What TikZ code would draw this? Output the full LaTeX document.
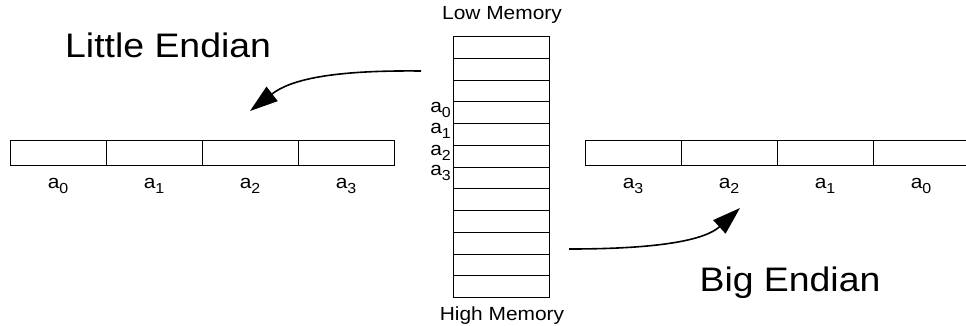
\documentclass[tikz,border=0pt]{standalone}
\usepackage{fontspec}
\setmainfont{Liberation Sans}[FakeStretch=1.1]
\usetikzlibrary{arrows.meta}
\newcommand\asub[1]{a\raisebox{-5pt}{\fontsize{14.5}{14.5}\selectfont #1}}
\begin{document}
\begin{tikzpicture}[x=1pt,y=-1pt,
  cell/.style={draw, line width=1.6pt, minimum width=96pt, minimum height=25pt, inner sep=0pt, outer sep=0pt},
  memrow/.style={draw, line width=1.6pt, minimum width=96pt, inner sep=0pt, outer sep=0pt},
  small/.style={font=\fontsize{19}{19}\selectfont, inner sep=0pt},
  big/.style={font=\fontsize{34}{34}\selectfont, inner sep=0pt},
  conn/.style={line width=1.6pt, -{Triangle[length=28pt, width=18pt]}}]
\clip (0,0) rectangle (966,325);
% memory column
\foreach \i in {1,...,12} {
  \pgfmathsetmacro\ta{int(36+21.75*(\i-1)+0.5)+0.5}
  \pgfmathsetmacro\tb{int(36+21.75*\i+0.5)+0.5}
  \node[memrow, minimum height={(\tb-\ta)*1pt}] (M\i) at (501.5, {(\ta+\tb)/2}) {};
}
\node[small, anchor=base] (low) at (502,19) {Low Memory};
\node[small, anchor=base] (high) at (502,320) {High Memory};
\node[small, anchor=base east] (m0) at (451,112) {\asub{0}};
\node[small, anchor=base east] (m1) at (451,133) {\asub{1}};
\node[small, anchor=base east] (m2) at (451,155) {\asub{2}};
\node[small, anchor=base east] (m3) at (451,175) {\asub{3}};
% little endian bar
\foreach \i/\s in {0/0,1/1,2/2,3/3} {
  \node[cell] (L\i) at ({58.5+96*\i}, 153) {};
  \node[small, anchor=base] (Ll\i) at ({58+96*\i}, 188) {\asub{\s}};
}
% big endian bar
\foreach \i/\s in {0/3,1/2,2/1,3/0} {
  \node[cell] (B\i) at ({633.5+96*\i}, 153) {};
  \node[small, anchor=base] (Bl\i) at ({633+96*\i}, 188) {\asub{\s}};
}
\node[big, anchor=base west] (little) at (65,57) {Little Endian};
\node[big, anchor=base] (bigt) at (790,291) {Big Endian};
% arrows
\coordinate (ls) at (421,71);
\coordinate (le) at (250,111);
\coordinate (bs) at (569,249);
\coordinate (be) at (740,208);
\draw[conn] (ls) .. controls (330,70) and (290,80) .. (le);
\draw[conn] (bs) .. controls (660,249) and (705,240) .. (be);
\end{tikzpicture}
\end{document}
